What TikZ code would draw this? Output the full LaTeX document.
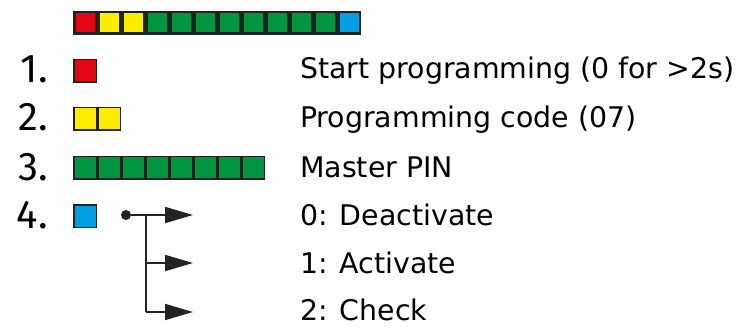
\documentclass[tikz,border=0pt]{standalone}
\usepackage{fontspec}
\setmainfont{DejaVu Sans}
\newfontfamily\numfont{Fira Sans}
\usetikzlibrary{arrows.meta,positioning}

\definecolor{keydark}{HTML}{222222}
\definecolor{keyred}{HTML}{E30613}
\definecolor{keyyellow}{HTML}{FFED00}
\definecolor{keygreen}{HTML}{009640}
\definecolor{keyblue}{HTML}{009FE3}

\tikzset{
  cell/.style={fill=#1, draw=keydark, line width=1.5pt, minimum size=22.5pt, inner sep=0pt},
  barcell/.style={fill=#1, draw=keydark, line width=2.5pt, minimum size=21.5pt, inner sep=0pt},
  steplabel/.style={font=\fontsize{28.4}{30}\selectfont, anchor=base west, inner sep=0pt},
  stepnum/.style={font=\numfont\fontsize{40}{40}\selectfont, anchor=base east, inner sep=0pt},
  branch/.style={line width=1.8pt, draw=keydark, -{Triangle[length=28pt,width=16pt]}}
}

\begin{document}
\begin{tikzpicture}[x=1pt,y=-1pt]
\useasboundingbox (0,0) rectangle (748,329);
% keypad sequence
\foreach \c [count=\i] in {keyred,keyyellow,keyyellow,keygreen,keygreen,keygreen,keygreen,keygreen,keygreen,keygreen,keygreen,keyblue}
  \node[barcell=\c] (bar\i) at ({61+24*\i},23) {};
% steps
\foreach \n/\y in {1/83,2/131,3/180,4/228}
  \node[stepnum] (num\n) at (48,\y) {\n.};
\node[cell=keyred] (red1) at (85,71) {};
\foreach \i in {1,2}
  \node[cell=keyyellow] (yel\i) at ({61+24*\i},119) {};
\foreach \i in {1,...,8}
  \node[cell=keygreen] (grn\i) at ({61+24*\i},167.5) {};
\node[cell=keyblue] (blu1) at (85,216) {};
% texts
\foreach \y/\l [count=\i] in {79/Start programming (0 for >2s),128/Programming code (07),178/Master PIN,225/0: Deactivate,273/1: Activate,320/2: Check}
  \node[steplabel] (txt\i) at (300,\y) {\l};
% choice
\node[circle, fill=keydark, inner sep=0pt, minimum size=10pt] (dot) at (126,215) {};
\coordinate (fork) at (146,215);
\coordinate (end0) at (193,215);
\coordinate (end1) at (193,263);
\coordinate (end2) at (193,312);
\draw[branch] (dot) -- (end0);
\draw[line width=1.8pt, draw=keydark] (fork) -- (146,312);
\draw[branch] (fork |- end1) -- (end1);
\draw[branch] (fork |- end2) -- (end2);
\end{tikzpicture}
\end{document}
